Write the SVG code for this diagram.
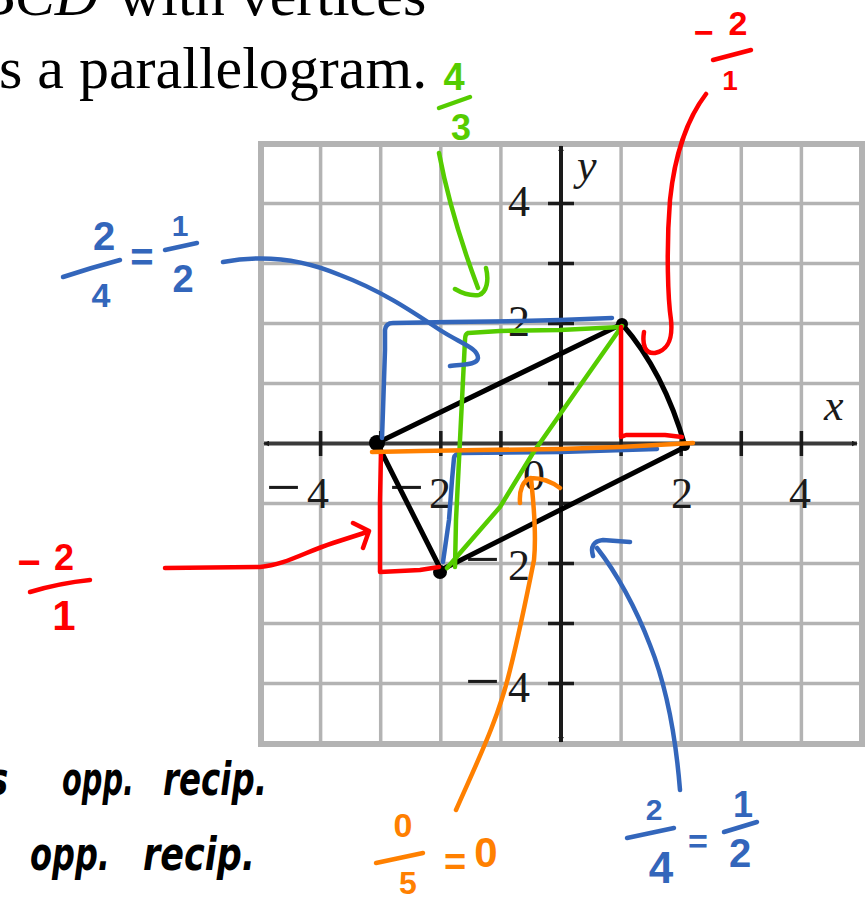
<svg xmlns="http://www.w3.org/2000/svg" width="865" height="900" viewBox="0 0 865 900">
<style>
.title{font-family:"Liberation Serif","Times New Roman",serif;font-size:60px;fill:#000}
.grid line{stroke:#b3b3b3;stroke-width:3.5}
.tick{stroke:#1a1a1a;stroke-width:3.5}
.lab{font-family:"Liberation Serif","Times New Roman",serif;font-size:44px;fill:#1a1a1a}
.mn{font-size:62px}
.ink{fill:none;stroke-width:4.5;stroke-linecap:round;stroke-linejoin:round}
.blk{stroke:#000;stroke-width:5}
.blu{stroke:#3366bb}
.grn{stroke:#55cc00}
.red{stroke:#ff0000}
.org{stroke:#ff8000}
.hw{font-family:"Liberation Sans",Arial,sans-serif;font-weight:bold;text-anchor:middle}
.bk{font-family:"DejaVu Sans",sans-serif;font-weight:bold;font-style:italic;fill:#000;font-size:36px}
</style>
<defs>
<marker id="ah" viewBox="0 0 10 10" refX="9" refY="5" markerWidth="6" markerHeight="6" orient="auto-start-reverse" markerUnits="userSpaceOnUse">
<path d="M0,0 L10,5 L0,10 z" fill="#1a1a1a"/>
</marker>
</defs>
<rect width="865" height="900" fill="#fff"/>

<g id="title">
<text class="title" x="-22" y="15"><tspan font-style="italic">BCD</tspan><tspan x="118">with vertices</tspan></text>
<text class="title" x="-1" y="88">s a parallelogram.</text>
</g>

<g id="grid" class="grid">
<line x1="320.6" y1="144" x2="320.6" y2="744"/>
<line x1="380.7" y1="144" x2="380.7" y2="744"/>
<line x1="440.8" y1="144" x2="440.8" y2="744"/>
<line x1="500.9" y1="144" x2="500.9" y2="744"/>
<line x1="621.1" y1="144" x2="621.1" y2="744"/>
<line x1="681.2" y1="144" x2="681.2" y2="744"/>
<line x1="741.3" y1="144" x2="741.3" y2="744"/>
<line x1="801.4" y1="144" x2="801.4" y2="744"/>
<line x1="261" y1="203.5" x2="862" y2="203.5"/>
<line x1="261" y1="263.5" x2="862" y2="263.5"/>
<line x1="261" y1="323.5" x2="862" y2="323.5"/>
<line x1="261" y1="383.5" x2="862" y2="383.5"/>
<line x1="261" y1="503.5" x2="862" y2="503.5"/>
<line x1="261" y1="563.5" x2="862" y2="563.5"/>
<line x1="261" y1="623.5" x2="862" y2="623.5"/>
<line x1="261" y1="683.5" x2="862" y2="683.5"/>
<rect x="261" y="144" width="601" height="600" fill="none" stroke="#b3b3b3" stroke-width="6"/>
</g>

<g id="axes">
<line x1="264" y1="443.5" x2="857" y2="443.5" stroke="#3a3a3a" stroke-width="4" marker-start="url(#ah)" marker-end="url(#ah)"/>
<line x1="561" y1="146" x2="561" y2="742" stroke="#1a1a1a" stroke-width="4" marker-start="url(#ah)" marker-end="url(#ah)"/>
<g class="tick">
<line x1="320.6" y1="431" x2="320.6" y2="456"/>
<line x1="380.7" y1="431" x2="380.7" y2="456"/>
<line x1="440.8" y1="431" x2="440.8" y2="456"/>
<line x1="500.9" y1="431" x2="500.9" y2="456"/>
<line x1="621.1" y1="431" x2="621.1" y2="456"/>
<line x1="681.2" y1="431" x2="681.2" y2="456"/>
<line x1="741.3" y1="431" x2="741.3" y2="456"/>
<line x1="801.4" y1="431" x2="801.4" y2="456"/>
<line x1="548" y1="203.5" x2="574" y2="203.5"/>
<line x1="548" y1="263.5" x2="574" y2="263.5"/>
<line x1="548" y1="323.5" x2="574" y2="323.5"/>
<line x1="548" y1="383.5" x2="574" y2="383.5"/>
<line x1="548" y1="503.5" x2="574" y2="503.5"/>
<line x1="548" y1="563.5" x2="574" y2="563.5"/>
<line x1="548" y1="623.5" x2="574" y2="623.5"/>
<line x1="548" y1="683.5" x2="574" y2="683.5"/>
</g>
<text class="lab" y="508"><tspan class="mn" x="266">−</tspan><tspan x="307">4</tspan></text>
<text class="lab" y="508"><tspan class="mn" x="389">−</tspan><tspan x="429">2</tspan></text>
<text class="lab" x="671" y="508">2</text>
<text class="lab" x="789" y="508">4</text>
<text class="lab" x="508" y="216">4</text>
<text class="lab" x="508" y="336">2</text>
<text class="lab" y="580"><tspan class="mn" x="465">−</tspan><tspan x="508">2</tspan></text>
<text class="lab" y="702"><tspan class="mn" x="465">−</tspan><tspan x="508">4</tspan></text>
<text class="lab" x="523" y="490">0</text>
<text class="lab" x="577" y="180" font-style="italic" font-size="48">y</text>
<text class="lab" x="824" y="420" font-style="italic" font-size="52">x</text>
</g>

<g id="parallelogram">
<path class="ink blk" d="M377,443 L622,324"/>
<path class="ink blk" d="M622,324 Q664,372 685,446"/>
<path class="ink blk" d="M685,447 L441,570"/>
<path class="ink blk" d="M441,570 L377,443"/>
<circle cx="377" cy="443" r="8"/>
<circle cx="622" cy="324" r="6"/>
<circle cx="685" cy="446" r="5"/>
<circle cx="440" cy="572" r="7"/>
</g>

<g id="slope-triangles">
<path class="ink blu" d="M382,438 L383,410 L385,350 L385,330 Q386,323 393,323 L450,322 L520,321 L560,320 L612,318"/>
<path class="ink blu" d="M443,562 L449,520 L452,480 L454,458 Q455,453 462,453 L560,452 L657,449"/>
<path class="ink grn" d="M621,327 L560,330 L500,331 L468,333 Q465,334 465,340 L462,400 L459,460 L456,520 L455,567"/>
<path class="ink grn" d="M622,326 L577,390 L533,453 L500,507 L447,568"/>
<path class="ink red" d="M621,327 L621,437 L626,435 L665,435 L682,437"/>
<path class="ink red" d="M381,452 L380,500 L380,572 L420,570 L439,567"/>
<path class="ink org" d="M372,452 L420,451 L480,450 L560,449 L620,447 L693,443"/>
</g>

<g id="connectors">
<path class="ink blu" d="M223,262 C260,255 300,258 340,275 C380,290 410,310 440,330 C460,343 478,348 478,358 C477,366 460,364 450,366"/>
<path class="ink grn" d="M439,153 C447,195 460,240 478,288 M486,268 C489,280 487,292 479,295 C470,296 460,292 455,289"/>
<path class="ink red" d="M706,94 C690,115 675,150 670,200 C666,250 668,300 671,320 C673,340 668,350 655,353 C645,354 642,345 644,332"/>
<path class="ink red" d="M165,568 L260,567 C285,565 305,552 333,543 L364,533 M353,523 L369,531 L363,548"/>
<path class="ink org" d="M456,810 C478,760 498,720 510,670 C520,630 528,590 534,560 C537,530 533,500 531,478 M520,503 C519,490 523,480 531,478 C542,478 552,482 560,488"/>
<path class="ink blu" d="M680,790 C676,740 668,690 650,645 C636,608 616,572 597,548 M593,556 C590,546 594,541 603,540 L630,542"/>
</g>

<g id="label-green-4-3" fill="#55cc00">
<text class="hw" x="454" y="90" font-size="38">4</text>
<path class="ink grn" d="M439,108 L470,97"/>
<text class="hw" x="461" y="140" font-size="36">3</text>
</g>

<g id="label-red-top" fill="#ff0000">
<text class="hw" x="704" y="44" font-size="34">−</text>
<text class="hw" x="738" y="35" font-size="34">2</text>
<path class="ink red" d="M713,60 L751,50"/>
<text class="hw" x="730" y="90" font-size="28">1</text>
</g>

<g id="label-blue-left" fill="#3366bb">
<text class="hw" x="104" y="250" font-size="40">2</text>
<path class="ink blu" d="M63,277 Q90,268 120,260"/>
<text class="hw" x="101" y="307" font-size="34">4</text>
<text class="hw" x="142" y="271" font-size="40">=</text>
<text class="hw" x="180" y="236" font-size="30">1</text>
<path class="ink blu" d="M165,250 L197,243"/>
<text class="hw" x="183" y="292" font-size="38">2</text>
</g>

<g id="label-red-left" fill="#ff0000">
<text class="hw" x="29" y="576" font-size="40">−</text>
<text class="hw" x="64" y="570" font-size="36">2</text>
<path class="ink red" d="M30,592 Q60,583 90,580"/>
<text class="hw" x="64" y="630" font-size="42">1</text>
</g>

<g id="label-orange" fill="#ff8000">
<text class="hw" x="403" y="837" font-size="34">0</text>
<path class="ink org" d="M376,863 L423,853"/>
<text class="hw" x="408" y="894" font-size="32">5</text>
<text class="hw" x="455" y="875" font-size="38">=</text>
<text class="hw" x="486" y="867" font-size="42">0</text>
</g>

<g id="label-blue-bottom" fill="#3366bb">
<text class="hw" x="654" y="820" font-size="30">2</text>
<path class="ink blu" d="M627,838 L674,828"/>
<text class="hw" x="661" y="883" font-size="44">4</text>
<text class="hw" x="698" y="853" font-size="34">=</text>
<text class="hw" x="743" y="817" font-size="36">1</text>
<path class="ink blu" d="M724,832 L757,822"/>
<text class="hw" x="740" y="867" font-size="40">2</text>
</g>

<g id="notes">
<text class="bk" transform="translate(-13,795) scale(1,1.3)">s</text>
<text class="bk" transform="translate(62,795) scale(1,1.3)" textLength="72" lengthAdjust="spacingAndGlyphs">opp.</text>
<text class="bk" transform="translate(163,795) scale(1,1.3)" textLength="104" lengthAdjust="spacingAndGlyphs">recip.</text>
<text class="bk" transform="translate(30,870) scale(1,1.3)" textLength="80" lengthAdjust="spacingAndGlyphs">opp.</text>
<text class="bk" transform="translate(143,870) scale(1,1.3)" textLength="112" lengthAdjust="spacingAndGlyphs">recip.</text>
</g>
</svg>
